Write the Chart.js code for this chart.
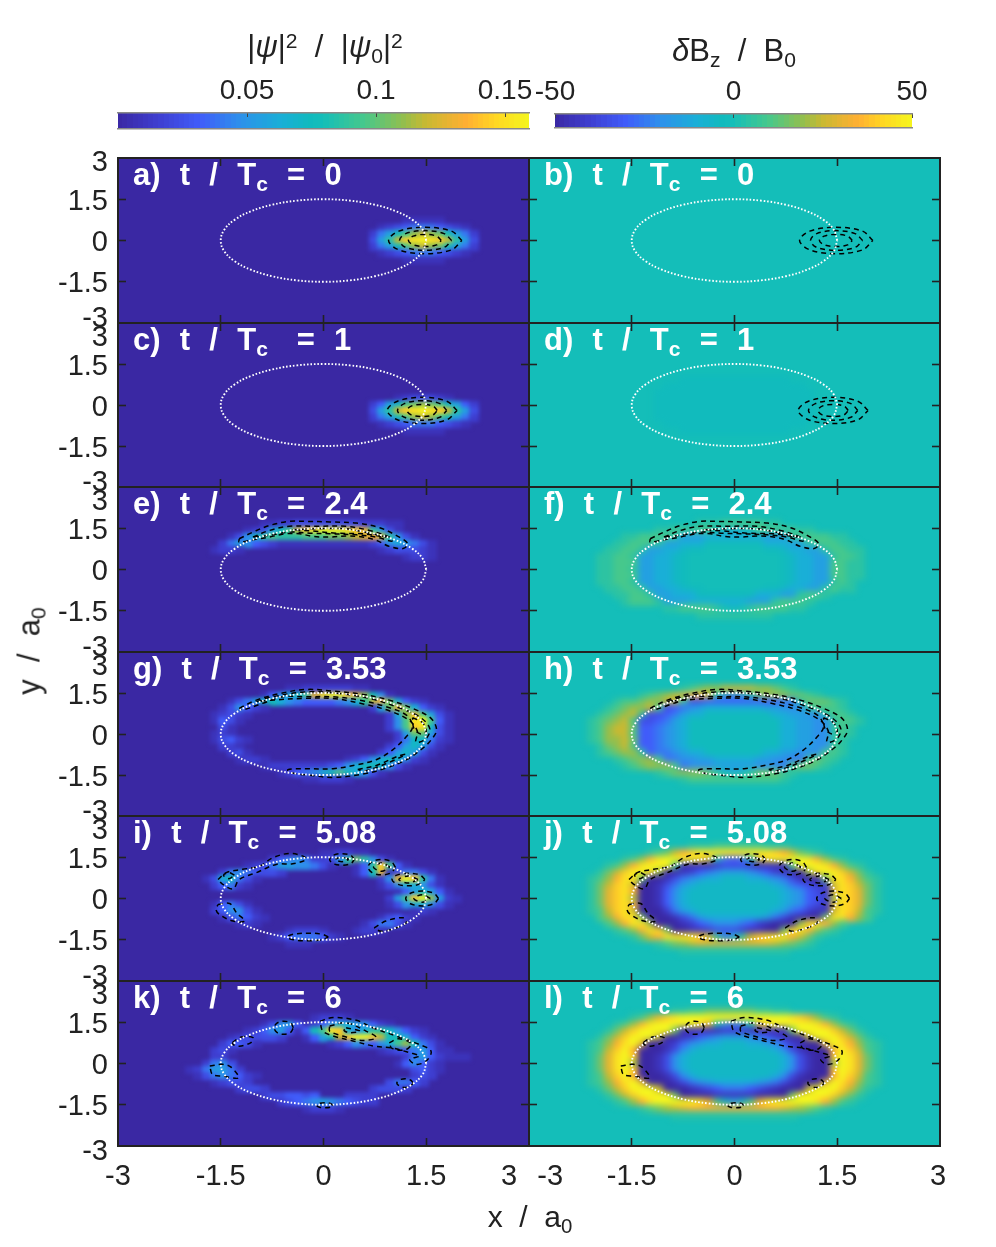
<!DOCTYPE html>
<html><head><meta charset="utf-8">
<script src="https://cdn.jsdelivr.net/npm/chart.js@4"></script>
<style>
html,body{margin:0;padding:0;background:#fff;width:996px;height:1247px;overflow:hidden;font-family:"Liberation Sans",Arial,sans-serif;color:#222}
.abs{position:absolute}
canvas{display:block}
.t{position:absolute;white-space:pre;line-height:1}
.t sub{font-size:.68em;vertical-align:baseline;position:relative;top:.28em}
.t sup{font-size:.68em;vertical-align:baseline;position:relative;top:-.42em}
.lab{font-weight:bold;font-size:31px;color:#fff;word-spacing:1px}
</style></head><body>
<script>
// ---- data: each heat row is [row, firstColumn, levels]; levels a..u span the colour range in 21 steps (capitals are half a step higher)
const heatA=[[6,30,"bbbbb"],[7,27,"bcdefffedcb"],[8,26,"cfhkmoponkhfc"],[9,26,"dhlpstutsplhd"],[10,26,"cfhkmoponkhfc"],[11,27,"bcdefffedcb"],[12,30,"bbbbb"]];
const heatB=[];
const heatC=[[8,29,"bcdddcb"],[9,26,"cehjmnonmjhec"],[10,26,"dhlpstutsplhd"],[11,26,"cfhkmopomkhfc"],[12,27,"bcdefffedcb"],[13,30,"bbbbb"]];
const heatD=[[5,14,"JJJJJJJJJJJJJ"],[6,12,"JJJJJJJJJJJJJJJJJ"],[7,11,"JJJJJJJJJJJJJJJJJJJ"],[8,11,"JJJJJJJJJJJJJJJJJJJ"],[9,11,"JJJJJJJJJJJJJJJJJJJ"],[10,11,"JJJJJJJJJJJJJJJJJJJ"],[11,11,"JJJJJJJJJJJJJJJJJJJ"],[12,12,"JJJJJJJJJJJJJJJJJ"],[13,14,"JJJJJJJJJJJJJ"]];
const heatE=[[2,13,"bbccddddddddcccbb"],[3,11,"bcdhkmpstuuutsqlhdb"],[4,9,"bdgjlmlllmmmnnopqrplgdb"],[5,8,"cfhgedcbbbbbbbbbbbcegihfdb"],[6,7,"bccb"],[6,27,"bcdddcb"],[7,30,"bccb"]];
const heatF=[[2,16,"lllmmmmmll"],[3,11,"llmmmmmkjijkmmmmmll"],[4,7,"llmmmml"+"hhhiiiiiiihhh"+"lmmmmll"],[5,6,"llmmml"+"hhiiiJJJJJJJiiihh"+"lmmmll"],[6,5,"llmml"+"hhiijJJkkkkkkkJJjiihh"+"lmmll"],[7,4,"llmml"+"hhiijJkkkkkkkkkkkJjiihh"+"lmml"],[8,4,"llmmm"+"hhiijJkkkkkkkkkkkJjiihh"+"mmll"],[9,4,"llmml"+"hhiijJkkkkkkkkkkkJjiihh"+"mmll"],[10,4,"llmmm"+"hhiijJkkkkkkkkkkkJjiihh"+"mmll"],[11,4,"llmml"+"hhiijJkkkkkkkkkkkJjiihh"+"lml"],[12,5,"llmml"+"hhiijJJkkkkkkkJJjiihh"+"lmll"],[13,6,"llmml"+"hhiiiJJJJJJJiiihh"+"lmml"],[14,7,"lmmml"+"hhhiiiiiiihhh"+"lmmml"],[15,12,"llmmmmlkjklmmmmll"],[16,16,"lllllllll"]];
const heatG=[[2,16,"bbccccccbb"],[3,13,"begikmqtuusqokgb"],[4,9,"bdfhjkigfeeeefgilprniecb"],[5,8,"bdgecb"],[5,26,"chnqniecb"],[6,7,"bcdcb"],[6,28,"cioqmhdb"],[7,7,"bedb"],[7,28,"cgmtumeb"],[8,8,"db"],[8,28,"cgmstjdb"],[9,7,"bcb"],[9,29,"chnnhdb"],[10,7,"bdecb"],[10,29,"cfjjfcb"],[11,8,"ccb"],[11,28,"cehjhdb"],[12,9,"cdb"],[12,27,"cehjhdb"],[13,10,"bccb"],[13,23,"bcegikjgcb"],[14,13,"bcccccccdegikkjgdb"],[15,15,"bcefgikmkigdb"],[16,18,"bbcccb"]];
const heatH=[[2,14,"lmnooppppoonml"],[3,9,"lmnopqrrpkhghknooonnml"],[4,6,"lmmnooppl"+"ddeeeeeeeeeff"+"lnnnml"],[5,5,"lmnoopm"+"defghiiiiiiihhggg"+"lmmml"],[6,4,"lmnopl"+"ddefhiiJJJJJJJJiihhgg"+"lmml"],[7,3,"lmnopm"+"ddefhiJJJJJJJJJJJiihhgg"+"lmml"],[8,3,"lmoppn"+"eefghiJJJJJJJJJJJiihhgg"+"lml"],[9,3,"lmoppm"+"eefghiJJJJJJJJJJJiihhgg"+"lml"],[10,3,"lmoopn"+"eefghiJJJJJJJJJJJiihhgg"+"ll"],[11,4,"lnopm"+"eefghiJJJJJJJJJJJiihhgg"+"ml"],[12,4,"lmnool"+"effghiiJJJJJJJiihhggg"+"mml"],[13,6,"lmnoom"+"ffgghhiiiiihhggff"+"mnml"],[14,7,"lmnooom"+"fggghhhhhgggf"+"mnnml"],[15,11,"lmnooonljijlnnnml"],[16,14,"lmmmmmmmmmmml"]];
const heatI=[[2,20,"bbccbb"],[3,14,"cefgfc"],[3,20,"cdglnlgdb"],[4,11,"bcdfhhggfdb"],[4,24,"belsmeb"],[5,8,"cfgfeddc"],[5,24,"bekqkeb"],[5,28,"bdffdb"],[6,6,"bdikfdb"],[6,27,"cgquslfb"],[7,7,"cefcb"],[7,27,"bdgiigdb"],[8,29,"behjheb"],[9,28,"chmsuohcb"],[10,7,"befdb"],[10,28,"bdgiigdb"],[11,7,"ceggdb"],[11,31,"bcb"],[12,8,"bdfecb"],[12,27,"bdecb"],[13,10,"bcb"],[13,25,"bdffdb"],[14,16,"bcccb"],[14,24,"bccb"],[15,14,"bcefffecb"],[16,16,"bbb"]];
const heatJ=[[1,15,"lllmmmmmmlll"],[2,10,"lmnprstttttttttsrpnml"],[3,7,"lmortuuuutpjfefjptuuuutroml"],[4,5,"lmortuuum"+"bbbbcdddcbbbb"+"muuutroml"],[5,4,"lnpsuuto"+"aabcefghhhgfecbaa"+"otuuspnl"],[6,3,"lmorttn"+"aabdfghiijjjiihgfdbaa"+"nttroml"],[7,3,"lnpstp"+"aabdfhijjjjjjjjjihfedcc"+"ptspnl"],[8,3,"lnqstr"+"aabegijjjjjjjjjjjihgedc"+"qtsqnl"],[9,3,"lnqsto"+"aabegijjjjjjjjjjjihgedc"+"otsqnl"],[10,3,"lnqstr"+"aabegijjjjjjjjjjjihgedc"+"qtsqnl"],[11,3,"lmpstp"+"aaacfhijjjjjjjjjihfecbb"+"ptspml"],[12,4,"morttn"+"aaabdfhiiiiiiihfdbaaa"+"nttrom"],[13,5,"mortto"+"aaabcefgggfecbaaa"+"ottrom"],[14,6,"lmorttn"+"aabbcdddcbbaa"+"nttroml"],[15,8,"lnprttttsplg"],[15,20,"ilpstttrpnl"],[16,11,"lmnopqqqqqqqqqponml"],[17,14,"lllllllllllll"]];
const heatK=[[2,19,"bcccb"],[3,13,"bdghebcegiihgecb"],[4,11,"bcegheb"],[4,17,"bekmtsigilljgecb"],[5,9,"bcdddc"],[5,14,"dc"],[5,18,"behkpsuu"],[5,26,"spkkiecb"],[6,8,"ceedb"],[6,21,"bcegfegimokfdb"],[7,7,"cdb"],[7,27,"bcdefhebb"],[8,7,"cc"],[8,30,"cfhecbbb"],[9,6,"cfgd"],[9,29,"begecb"],[10,4,"bcfhhfc"],[10,31,"decb"],[11,5,"bdfgfecb"],[11,31,"cdc"],[12,7,"bcddc"],[12,28,"dffec"],[13,10,"cddc"],[13,26,"cdddc"],[14,13,"cddeede"],[14,23,"cccc"],[15,15,"cdefghgfedcc"],[16,18,"bcccb"]];
const heatL=[[1,13,"llmmnnnnnnmmll"],[2,8,"lmoqstuuuuuuuuuuuuutsqoml"],[3,6,"lmortuuuuutqkgfgkqtuuuuutroml"],[4,5,"lnpsuuuun"+"bbbbbcccbbbbb"+"nuuuuspnl"],[5,4,"lnpsuuup"+"aabcefghhhgfecbaa"+"puuuspnl"],[6,3,"lmortuq"+"aabcEghiijjjiihgecbaa"+"qutroml"],[7,3,"lmpsur"+"aaabdgijjjjjjjjjigdbaaa"+"ruspml"],[8,3,"lnqtus"+"aabdgijjjjjjjjjjjigdbaa"+"sutqnl"],[9,3,"lnqtuo"+"aabdgijjjjjjjjjjjigdbaa"+"outqnl"],[10,3,"lnqtus"+"aabdgijjjjjjjjjjjigdbaa"+"sutqnl"],[11,3,"lmpsur"+"aaabdgijjjjjjjjjigdbaaa"+"ruspml"],[12,3,"lmortuq"+"aaabdfghiiiiihgfdbaaa"+"qutroml"],[13,4,"lnpsuuup"+"aaabcdefffedcbaaa"+"puuuspnl"],[14,5,"lnpsuuuun"+"aaaabbbbbaaaa"+"nuuuuspnl"],[15,6,"lmortuuuuutqmjhjmqtuuuuutroml"],[16,9,"lmnopqrrrrrrrrrrrqponml"],[17,13,"lllllllllllllll"]];

const ringX=[1.5,1.449,1.299,1.061,.75,.388,0,-.388,-.75,-1.061,-1.299,-1.449,-1.5,-1.449,-1.299,-1.061,-.75,-.388,0,.388,.75,1.061,1.299,1.449,1.5];
const ringY=[0,.388,.75,1.061,1.299,1.449,1.5,1.449,1.299,1.061,.75,.388,0,-.388,-.75,-1.061,-1.299,-1.449,-1.5,-1.449,-1.299,-1.061,-.75,-.388,0];

const contourAB=[[2.02,0,1.87,.34,1.48,.48,1.1,.34,.95,0,1.1,-.34,1.48,-.48,1.87,-.34,2.02,0],[1.87,0,1.76,.25,1.48,.36,1.2,.25,1.11,0,1.2,-.25,1.48,-.36,1.76,-.25,1.87,0],[1.72,0,1.65,.16,1.48,.22,1.31,.16,1.24,0,1.31,-.16,1.48,-.22,1.65,-.16,1.72,0]];
const contourCD=[[1.95,-.2,1.8,.14,1.44,.28,1.08,.14,.93,-.2,1.08,-.54,1.44,-.68,1.8,-.54,1.95,-.2],[1.8,-.2,1.7,.05,1.44,.16,1.18,.05,1.08,-.2,1.18,-.45,1.44,-.56,1.7,-.45,1.8,-.2],[1.66,-.2,1.6,-.04,1.44,.02,1.28,-.04,1.22,-.2,1.28,-.36,1.44,-.42,1.6,-.36,1.66,-.2]];
const contourEF=[[-1.23,1.12,-1.03,1.36,-.79,1.6,-.5,1.75,-.25,1.75,.09,1.73,.48,1.69,.82,1.52,1.06,1.24,1.23,.94,1.16,.76,.96,.84,.77,1.06,.57,1.18,.33,1.22,.09,1.18,-.15,1.2,-.35,1.3,-.55,1.3,-.79,1.18,-1.03,1.08,-1.23,1.0,-1.23,1.12],[-1.03,1.18,-.79,1.42,-.5,1.57,-.11,1.57,.33,1.57,.67,1.42,.96,1.18,1.0,1.03,.77,1.18,.48,1.26,.09,1.3,-.2,1.32,-.5,1.36,-.79,1.24,-1.03,1.18],[-.45,1.45,-.11,1.48,.33,1.48,.67,1.32,.91,1.18,.57,1.3,.18,1.32,-.16,1.4,-.45,1.45]];
const contourGH=[[-1.23,.94,-.98,1.24,-.64,1.48,-.25,1.63,.14,1.57,.57,1.45,.96,1.24,1.3,.94,1.57,.57,1.65,.15,1.57,-.22,1.45,-.52,1.21,-.94,.91,-1.25,.57,-1.47,.14,-1.59,-.2,-1.51,-.45,-1.43,-.52,-1.31,-.3,-1.27,.14,-1.27,.48,-1.13,.77,-.94,1.01,-.58,1.21,-.09,1.3,.27,1.21,.69,.91,1.0,.53,1.24,.14,1.36,-.25,1.36,-.59,1.36,-.89,1.12,-1.18,.88,-1.23,.94],[-.98,1.18,-.74,1.36,-.25,1.54,.23,1.48,.67,1.3,1.06,1.0,1.4,.63,1.55,.21,1.5,-.16,1.35,-.3,1.37,.1,1.25,.5,.96,.85,.58,1.1,.14,1.3,-.3,1.3,-.74,1.24,-.98,1.18],[.5,-1.3,.77,-1.15,1.1,-.8,1.2,-.75,.9,-1.1,.6,-1.35,.5,-1.3],[1.3,.6,1.45,.4,1.5,.1,1.42,0,1.32,.2,1.3,.6]];
const contourIJ=[[.45,1.42,.4,1.57,.27,1.63,.14,1.57,.09,1.42,.14,1.27,.27,1.21,.4,1.27,.45,1.42],[.37,1.42,.27,1.5,.17,1.42,.27,1.34,.37,1.42],[1.05,1.14,.99,1.34,.85,1.42,.71,1.34,.65,1.14,.71,.94,.85,.86,.99,.94,1.05,1.14],[.97,1.14,.85,1.29,.73,1.14,.85,.99,.97,1.14],[1.48,.69,1.41,.85,1.24,.92,1.07,.85,1.0,.69,1.07,.53,1.24,.46,1.41,.53,1.48,.69],[1.38,.69,1.24,.82,1.1,.69,1.24,.56,1.38,.69],[1.68,0,1.61,.19,1.44,.27,1.27,.19,1.2,0,1.27,-.19,1.44,-.27,1.61,-.19,1.68,0],[1.56,0,1.44,.14,1.32,0,1.44,-.14,1.56,0],[.74,-1.07,.91,-.82,1.16,-.7,1.21,-.88,1.06,-1.07,.84,-1.19,.74,-1.07],[.07,-1.4,-.02,-1.3,-.23,-1.26,-.44,-1.3,-.53,-1.4,-.44,-1.5,-.23,-1.54,-.02,-1.5,.07,-1.4],[-1.54,-.22,-1.37,-.18,-1.27,-.52,-1.15,-.82,-1.32,-.82,-1.52,-.58,-1.57,-.4,-1.54,-.22],[-1.54,.69,-1.42,.94,-1.18,1.06,-.93,1.18,-.74,1.48,-.5,1.64,-.3,1.54,-.25,1.42,-.45,1.26,-.69,1.24,-.98,.94,-1.23,.69,-1.32,.35,-1.47,.51,-1.54,.69],[-1.3,.85,-1.38,.94,-1.46,.85,-1.38,.72,-1.3,.85]];
const contourKL=[[-.05,1.54,.14,1.67,.48,1.57,.72,1.3,1.06,1.0,1.4,.69,1.57,.45,1.5,.09,1.35,-.03,1.26,.15,1.4,.27,1.26,.39,.99,.57,.74,.63,.43,.82,.14,1.0,-.01,1.18,-.05,1.54],[.09,1.36,.33,1.48,.62,1.18,.77,.94,.57,.84,.28,1.0,.09,1.18,.09,1.36],[.33,1.3,.53,1.18,.38,1.12,.3,1.2,.33,1.3],[.96,.75,1.1,.9,1.28,.72,1.2,.5,1.0,.55,.96,.75],[-.44,1.3,-.48,1.47,-.58,1.54,-.68,1.47,-.72,1.3,-.68,1.13,-.58,1.06,-.48,1.13,-.44,1.3],[-1.33,.76,-1.2,.96,-1.03,.94,-1.06,.76,-1.23,.63,-1.32,.69,-1.33,.76],[-1.66,-.09,-1.47,-.03,-1.35,-.13,-1.24,-.52,-1.47,-.46,-1.62,-.4,-1.66,-.09],[.14,-1.52,.1,-1.45,.02,-1.43,-.06,-1.45,-.1,-1.52,-.06,-1.59,.02,-1.61,.1,-1.59,.14,-1.52],[1.31,-.71,1.27,-.6,1.19,-.55,1.11,-.6,1.07,-.71,1.11,-.82,1.19,-.87,1.27,-.82,1.31,-.71]];

const tickValues=[-1.5,0,1.5];
const xLabelsText=["-3","-1.5","0","1.5","3"];
const xLabelSpotsLeft=[-3,-1.5,0,1.5,2.71];
const xLabelSpotsRight=[-2.69,-1.5,0,1.5,2.97];
const yLabelsText=["3","1.5","0","-1.5","-3"];
const panelLetters=["a)","b)","c)","d)","e)","f)","g)","h)","i)","j)","k)","l)"];
const panelTimes=["0","0","1","1","2.4","2.4","3.53","3.53","5.08","5.08","6","6"];
const cbLeftValues=[.001,.003,.005,.007,.009,.011,.013,.015,.017,.019,.021,.023,.025,.027,.029,.031,.033,.035,.037,.039,.041,.043,.045,.047,.049,.051,.053,.055,.057,.059,.061,.063,.065,.067,.069,.071,.073,.075,.077,.079,.081,.083,.085,.087,.089,.091,.093,.095,.097,.099,.101,.103,.105,.107,.109,.111,.113,.115,.117,.119,.121,.123,.125,.127,.129,.131,.133,.135,.137,.139,.141,.143,.145,.147,.149,.151,.153,.155,.157,.159];
const cbRightValues=[-49.5,-48,-46.5,-45,-43.5,-42,-40.5,-39,-37.5,-36,-34.5,-33,-31.5,-30,-28.5,-27,-25.5,-24,-22.5,-21,-19.5,-18,-16.5,-15,-13.5,-12,-10.5,-9,-7.5,-6,-4.5,-3,-1.5,0,1.5,3,4.5,6,7.5,9,10.5,12,13.5,15,16.5,18,19.5,21,22.5,24,25.5,27,28.5,30,31.5,33,34.5,36,37.5,39,40.5,42,43.5,45,46.5,48,49.5];
const cbLeftTicks=[.05,.1,.15], cbRightTicks=[-50,0,50];
const psiMax=.1593, bMin=-50, bMax=50;

// ---- colour map
const stops=[[0,58,40,163],[.1,62,62,208],[.2,64,92,250],[.3,45,145,235],[.4,25,175,215],[.47,16,186,190],[.5,20,190,185],[.6,70,200,140],[.7,150,190,75],[.75,200,185,50],[.85,255,175,50],[.92,255,215,35],[1,245,245,30]];
function color(t){t=Math.max(0,Math.min(1,t));let i=0;while(i<stops.length-2&&t>stops[i+1][0])i++;const a=stops[i],b=stops[i+1],f=(t-a[0])/(b[0]-a[0]);
 return `rgb(${[1,2,3].map(k=>Math.round(a[k]+(b[k]-a[k])*f)).join(",")})`;}
const sprites={};
function sprite(col,w,h){const k=col+w+"x"+h;if(!sprites[k]){const c=document.createElement("canvas");c.width=w;c.height=h;const g=c.getContext("2d");g.fillStyle=col;g.fillRect(0,0,w,h);sprites[k]=c;}return sprites[k];}

const H=996,V=1247;
const plotL=[118,529],plotW=411;
const plotT=[158,323,487,652,816,981],plotH=[165,164,165,164,165,165];
function base(){return{responsive:false,animation:false,events:[],plugins:{legend:{display:false},tooltip:{enabled:false}}};}
const heats=[heatA,heatB,heatC,heatD,heatE,heatF,heatG,heatH,heatI,heatJ,heatK,heatL];
const contours=[contourAB,contourAB,contourCD,contourCD,contourEF,contourEF,contourGH,contourGH,contourIJ,contourIJ,contourKL,contourKL];
function lineSet(xs,ys,style){return Object.assign({type:"scatter",showLine:true,pointRadius:0,data:xs.map((x,i)=>({x,y:ys[i]})),xAxisID:"x",yAxisID:"y"},style);}
function level(ch){const lo=ch.toLowerCase();return (lo.charCodeAt(0)-97+(lo===ch?0:.5))/20;}

function heatChart(idx){
 const col=idx%2,row=(idx-col)/2,L=plotL[col],T=plotT[row],h=plotH[row];
 const wrap=document.createElement("div");wrap.className="abs";
 wrap.style.cssText=`left:${L}px;top:${T}px;width:${plotW}px;height:${h}px;overflow:hidden;background:${color(col?.5:0)}`;
 const c=document.createElement("canvas");c.width=plotW;c.height=h;c.style.filter=col?"blur(3.2px)":"blur(2px)";wrap.appendChild(c);document.body.appendChild(wrap);
 const pts=[];
 heats[idx].forEach(([r,c0,s])=>{for(let i=0;i<s.length;i++){const lv=level(s[i]);
   pts.push({x:-2.5+(c0+i)*.125,y:2.25-r*.25,v:col?bMin+lv*(bMax-bMin):lv*psiMax});}});
 const cols=pts.map(p=>color(col?(p.v-bMin)/(bMax-bMin):p.v/psiMax));
 new Chart(c,{type:"scatter",data:{datasets:[{data:pts,pointStyle:cols.map(k=>sprite(k,10,8)),pointRadius:1,showLine:false}]},
  options:Object.assign(base(),{layout:{padding:0},scales:{x:{type:"linear",min:-3,max:3,display:false},y:{type:"linear",min:-3,max:3,display:false}}})});
}
function zero(dim){return s=>{s[dim]=0;s._computeLabelArea=()=>undefined;};}
function setTicks(vals){return s=>{s.ticks=vals.map(v=>({value:v}));};}
const tickGrid={drawOnChartArea:false,drawTicks:true,tickLength:-8,tickColor:"#222",tickWidth:1.6};
const edge={display:true,color:"#222",width:2};
function overlayChart(idx){
 const col=idx%2,row=(idx-col)/2,L=plotL[col],T=plotT[row],h=plotH[row];
 const c=document.createElement("canvas");c.width=H;c.height=V;c.className="abs";c.style.left=0;c.style.top=0;document.body.appendChild(c);
 const sets=[lineSet(ringX,ringY,{borderColor:"#fff",borderWidth:1.9,borderDash:[1.6,1.9],tension:.4})];
 contours[idx].forEach(f=>{const xs=f.filter((_,i)=>i%2==0),ys=f.filter((_,i)=>i%2==1);
   sets.push(lineSet(xs,ys,{borderColor:"#000",borderWidth:1.5,borderDash:[5,4],tension:.35}));});
 const lin={type:"linear",min:-3,max:3};
 const scales={
  x:Object.assign({},lin,{axis:"x",position:"bottom",grid:tickGrid,border:edge,ticks:{display:false},afterBuildTicks:setTicks(tickValues),afterFit:zero("height")}),
  xTop:Object.assign({},lin,{axis:"x",position:"top",grid:tickGrid,border:edge,ticks:{display:false},afterBuildTicks:setTicks(tickValues),afterFit:zero("height")}),
  y:Object.assign({},lin,{axis:"y",position:"left",grid:tickGrid,border:edge,ticks:{display:false},afterBuildTicks:setTicks(tickValues),afterFit:zero("width")}),
  yRight:Object.assign({},lin,{axis:"y",position:"right",grid:tickGrid,border:edge,ticks:{display:false},afterBuildTicks:setTicks(tickValues),afterFit:zero("width")})};
 const font={family:"'Liberation Sans'",size:29};
 if(col==0){const spots=[row==0?2.9:2.53,1.5,0,-1.5,row==5?-3.11:-2.75];
  scales.yLab=Object.assign({},lin,{axis:"y",position:"left",grid:{display:false,drawTicks:false},border:{display:false},
   ticks:{autoSkip:false,maxRotation:0,minRotation:0,padding:10,labelOffset:2.5,color:"#222",font,callback:(v,i)=>yLabelsText[i]},afterBuildTicks:setTicks(spots),afterFit:zero("width")});}
 if(row==5){const spots=col?xLabelSpotsRight:xLabelSpotsLeft;
  scales.xLab=Object.assign({},lin,{axis:"x",position:"bottom",grid:{display:false,drawTicks:false},border:{display:false},
   ticks:{autoSkip:false,maxRotation:0,minRotation:0,padding:14,color:"#222",font,callback:(v,i)=>xLabelsText[i]},afterBuildTicks:setTicks(spots),afterFit:zero("height")});}
 new Chart(c,{type:"scatter",data:{datasets:sets},options:Object.assign(base(),{layout:{padding:{left:L,top:T,right:H-L-plotW,bottom:V-T-h}},scales})});
}
function colorbar(vals,lo,hi,ticks,L,R,T,B,labels,cellW){
 const c=document.createElement("canvas");c.width=H;c.height=150;c.className="abs";c.style.left=0;c.style.top=0;document.body.appendChild(c);
 const pts=vals.map(v=>({x:v,y:0}));
 const cols=vals.map(v=>sprite(color((v-lo)/(hi-lo)),cellW,24));
 const g={drawOnChartArea:false,drawTicks:true,tickLength:-4,tickColor:"#444",tickWidth:1,z:1};
 const e={display:true,color:"#888",width:1.4,z:1};
 new Chart(c,{type:"scatter",data:{datasets:[{data:pts,pointStyle:cols,pointRadius:1,showLine:false,xAxisID:"x",yAxisID:"y"}]},
  options:Object.assign(base(),{layout:{padding:{left:L,top:T,right:H-R,bottom:150-B}},scales:{
   x:{type:"linear",axis:"x",position:"top",min:lo,max:hi,grid:g,border:e,afterBuildTicks:setTicks(ticks),afterFit:zero("height"),
      ticks:{autoSkip:false,maxRotation:0,minRotation:0,padding:9,color:"#222",font:{family:"'Liberation Sans'",size:28},callback:(v,i)=>labels[i]}},
   xb:{type:"linear",axis:"x",position:"bottom",min:lo,max:hi,grid:{display:false},border:e,ticks:{display:false},afterFit:zero("height")},
   y:{type:"linear",axis:"y",min:-1,max:1,display:false}}})});
}
for(let i=0;i<12;i++)heatChart(i);
for(let i=0;i<12;i++)overlayChart(i);
colorbar(cbLeftValues,0,psiMax,cbLeftTicks,118,529,113,129,["0.05","0.1","0.15"],7);
colorbar(cbRightValues,bMin,bMax,cbRightTicks,555,912,114,128,["-50","0","50"],7);

function txt(html,x,y,cls,extra){const d=document.createElement("div");d.className="t "+(cls||"");d.innerHTML=html;d.style.left=x+"px";d.style.top=y+"px";if(extra)d.style.cssText+=extra;document.body.appendChild(d);return d;}
panelLetters.forEach((p,i)=>{const col=i%2,row=(i-col)/2;
 const gap=(p=="c)")?"   ":"  ";
 txt(`${p}  t  /  T<sub>c</sub>${gap}=  ${panelTimes[i]}`,col?544:133,plotT[row]+1,"lab");});
txt(`|<i>ψ</i>|<sup>2</sup>  /  |<i>ψ</i><sub>0</sub>|<sup>2</sup>`,325,31,"","font-size:31px;transform:translateX(-50%)");
txt(`<i>δ</i>B<sub>z</sub>  /  B<sub>0</sub>`,734,35,"","font-size:31px;transform:translateX(-50%)");
txt(`x  /  a<sub>0</sub>`,530,1202,"","font-size:30px;transform:translateX(-50%)");
txt(`y  /  a<sub>0</sub>`,29,651,"","font-size:31px;transform:translate(-50%,-50%) rotate(-90deg)");
</script>
</body></html>
